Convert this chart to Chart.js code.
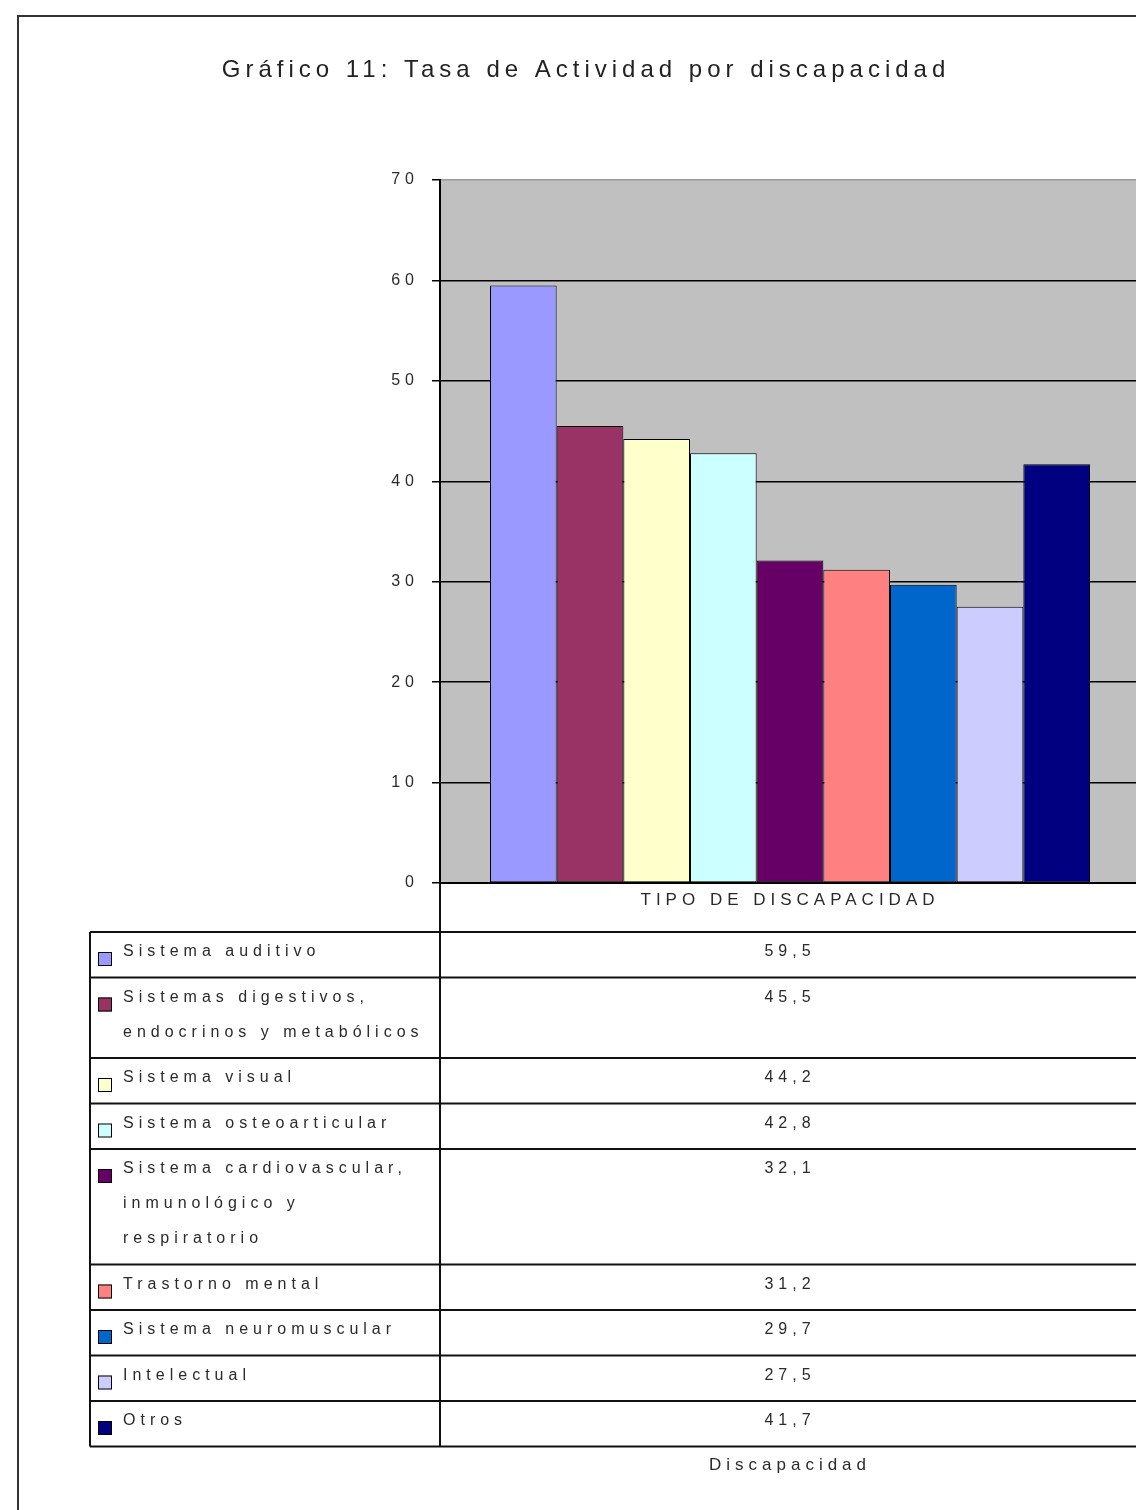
<!DOCTYPE html>
<html><head><meta charset="utf-8">
<script src="https://cdn.jsdelivr.net/npm/chart.js@4/dist/chart.umd.min.js"></script>
<style>html,body{margin:0;padding:0;background:#fff;overflow:hidden;}canvas{display:block;}</style>
</head><body>
<canvas id="c" width="1172" height="1510" style="width:1172px;height:1510px"></canvas>
<script>
const chartTitle = 'Gráfico 11: Tasa de Actividad por discapacidad';
const categories = ['TIPO DE DISCAPACIDAD'];
const xAxisTitle = 'Discapacidad';
const seriesLabelLines = [
  ['Sistema auditivo'],
  ['Sistemas digestivos,', 'endocrinos y metabólicos'],
  ['Sistema visual'],
  ['Sistema osteoarticular'],
  ['Sistema cardiovascular,', 'inmunológico y', 'respiratorio'],
  ['Trastorno mental'],
  ['Sistema neuromuscular'],
  ['Intelectual'],
  ['Otros']
];
const seriesValues = [59.5, 45.5, 44.2, 42.8, 32.1, 31.2, 29.7, 27.5, 41.7];
const seriesColors = ['#9999FF','#993366','#FFFFCC','#CCFFFF','#660066','#FF8080','#0066CC','#CCCCFF','#000080'];
const yAxisMin = 0, yAxisMax = 70, yAxisStep = 10;

const FONT = '"Liberation Sans", Arial, sans-serif';
const SPACING = '5px';
const TEXT = '#2a2a2a';
Chart.defaults.font.family = FONT;

function fmt(v){ return v.toFixed(1).replace('.', ','); }

const spacingPlugin = {
  id: 'spacing',
  beforeUpdate(chart){ chart.ctx.letterSpacing = SPACING; },
  beforeLayout(chart){ chart.ctx.letterSpacing = SPACING; },
  beforeDraw(chart){
    const ctx = chart.ctx, ca = chart.chartArea;
    ctx.letterSpacing = SPACING;
    ctx.save();
    ctx.fillStyle = '#fff';
    ctx.fillRect(0,0,chart.width,chart.height);
    ctx.strokeStyle = '#333'; ctx.lineWidth = 2;
    ctx.strokeRect(18, 16, 3000, 3000);
    ctx.fillStyle = '#C0C0C0';
    ctx.fillRect(ca.left, ca.top, ca.right - ca.left, ca.bottom - ca.top);
    ctx.restore();
  }
};

const tablePlugin = {
  id: 'dataTable',
  afterDraw(chart){
    const ctx = chart.ctx, ca = chart.chartArea;
    ctx.save();
    ctx.letterSpacing = SPACING;
    const tableLeft = 90, tableTop = 932, colX = ca.left, tableRight = ca.right;
    let y = tableTop;
    const rows = seriesLabelLines.map(lines => {
      const h = 45.5 + 35 * (lines.length - 1);
      const r = {top: y, h: h};
      y += h;
      return r;
    });
    const tableBottom = y;
    ctx.strokeStyle = '#111'; ctx.lineWidth = 2;
    ctx.beginPath();
    ctx.moveTo(tableLeft, tableTop); ctx.lineTo(tableRight, tableTop);
    rows.forEach(r => { ctx.moveTo(tableLeft, r.top + r.h); ctx.lineTo(tableRight, r.top + r.h); });
    ctx.moveTo(tableLeft, tableTop); ctx.lineTo(tableLeft, tableBottom);
    ctx.moveTo(colX, ca.bottom); ctx.lineTo(colX, tableBottom);
    ctx.stroke();
    ctx.font = '16px ' + FONT;
    ctx.textBaseline = 'middle';
    rows.forEach((r, i) => {
      ctx.fillStyle = seriesColors[i];
      ctx.fillRect(98, r.top + 20, 14, 14);
      ctx.strokeStyle = '#000'; ctx.lineWidth = 1;
      ctx.strokeRect(98.5, r.top + 20.5, 13, 13);
      ctx.fillStyle = TEXT;
      ctx.textAlign = 'left';
      seriesLabelLines[i].forEach((ln, k) => ctx.fillText(ln, 123, r.top + 20 + 35 * k));
      ctx.textAlign = 'center';
      ctx.fillText(fmt(seriesValues[i]), (colX + tableRight) / 2, r.top + 20);
    });
    ctx.restore();
  }
};

new Chart(document.getElementById('c'), {
  type: 'bar',
  data: {
    labels: categories,
    datasets: seriesLabelLines.map((lines, i) => ({
      label: lines.join(' '),
      data: [seriesValues[i]],
      backgroundColor: seriesColors[i],
      borderColor: '#000',
      borderWidth: 1,
      borderSkipped: false,
      categoryPercentage: 600 / 700,
      barPercentage: 1
    }))
  },
  options: {
    responsive: false,
    animation: false,
    devicePixelRatio: 1,
    layout: { padding: { left: 32, right: 32, top: 0, bottom: 0 } },
    plugins: {
      legend: { display: false },
      tooltip: { enabled: false },
      title: {
        display: true, text: chartTitle, color: '#222',
        font: { size: 24, weight: 'normal', family: FONT, lineHeight: 1.2 },
        padding: { top: 55.6, bottom: 95.6 }
      }
    },
    scales: {
      x: {
        grid: { display: false, drawTicks: false },
        border: { display: true, color: '#000', width: 2 },
        ticks: { color: TEXT, font: { size: 17 }, padding: 7 },
        title: { display: true, text: xAxisTitle, color: TEXT, font: { size: 17 }, padding: { top: 0, bottom: 34 } },
        afterFit: s => { s.height = 627; }
      },
      y: {
        min: yAxisMin, max: yAxisMax,
        ticks: { stepSize: yAxisStep, color: TEXT, font: { size: 16 }, padding: 13 },
        grid: {
          color: c => (c.tick && c.tick.value === yAxisMax) ? '#9a9a9a' : '#000',
          tickColor: '#000', lineWidth: 1.5, tickLength: 8
        },
        border: { display: true, color: '#000', width: 2 },
        afterFit: s => { s.width = 408; }
      }
    }
  },
  plugins: [spacingPlugin, tablePlugin]
});
</script>
</body></html>
